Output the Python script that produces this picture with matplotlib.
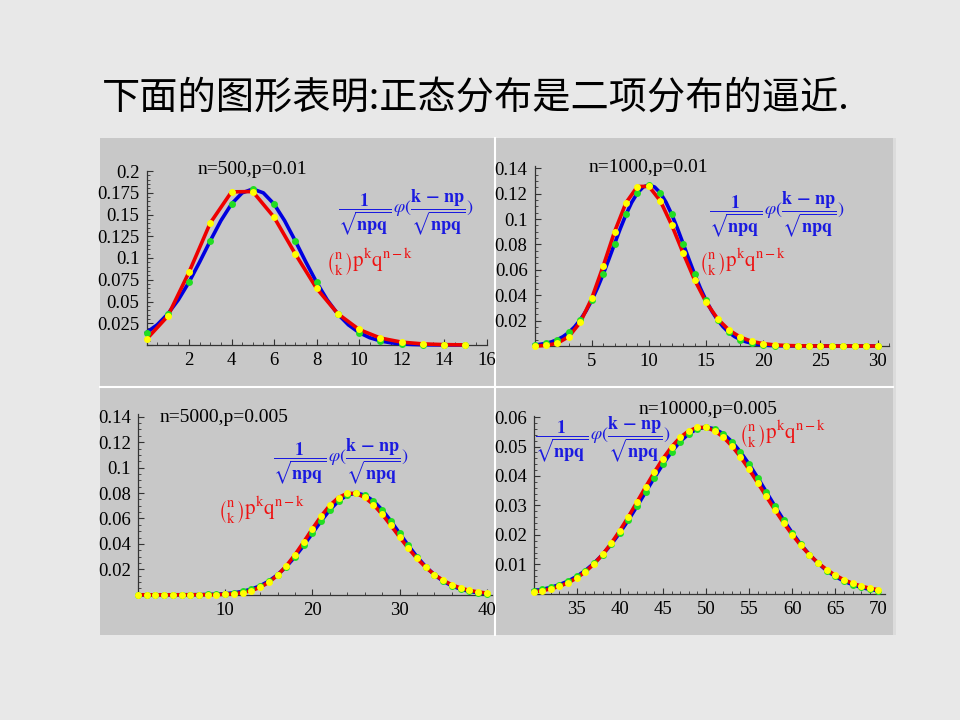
import numpy as np
import matplotlib
matplotlib.use("Agg")
import matplotlib.pyplot as plt
from matplotlib.patches import Rectangle
from matplotlib.ticker import MultipleLocator, FuncFormatter

plt.rcParams['mathtext.fontset'] = 'stix'

# ------------------------------------------------------------------
# Data: binomial (red) and normal (blue) values
# ------------------------------------------------------------------
title = "下面的图形表明:正态分布是二项分布的逼近."

# panel 1: n=500, p=0.01
k1 = np.arange(0, 16)
red1 = [0.00657, 0.03318, 0.08363, 0.14023, 0.17600, 0.17636, 0.14697, 0.10477,
        0.06522, 0.03601, 0.01786, 0.00804, 0.00331, 0.00125, 0.00044, 0.00014]
kb1 = np.arange(0, 15.5, 0.5)
blue1 = [0.01435, 0.02318, 0.03562, 0.05202, 0.07224, 0.09537, 0.11971, 0.14286,
         0.16209, 0.17484, 0.17931, 0.17484, 0.16209, 0.14286, 0.11971, 0.09537,
         0.07224, 0.05202, 0.03562, 0.02318, 0.01435, 0.00844, 0.00473, 0.00251,
         0.00127, 0.00061, 0.00028, 0.00012, 0.00005, 0.00002, 0.00001]

# panel 2: n=1000, p=0.01
k2 = np.arange(0, 31)
red2 = [0.000043, 0.000436, 0.002200, 0.007393, 0.018614, 0.037453, 0.062737,
        0.089986, 0.112824, 0.125614, 0.125741, 0.114310, 0.095162, 0.073054,
        0.052024, 0.034542, 0.021480, 0.012559, 0.006928, 0.003617, 0.001792,
        0.000845, 0.000380, 0.000163, 0.000067, 0.000026, 0.00001, 0.000004,
        0.000001, 0.0000005, 0.0000002]
kb2 = np.arange(0, 30.5, 0.5)
blue2 = [0.000812, 0.001328, 0.002121, 0.003298, 0.005003, 0.00740, 0.01067,
         0.01501, 0.02058, 0.02752, 0.03587, 0.04560, 0.05651, 0.06830, 0.08048,
         0.09247, 0.10360, 0.11317, 0.12055, 0.12520, 0.12679, 0.12520, 0.12055,
         0.11317, 0.10360, 0.09247, 0.08048, 0.06830, 0.05651, 0.04560, 0.03587,
         0.02752, 0.02058, 0.01501, 0.01067, 0.00740, 0.005003, 0.003298,
         0.002121, 0.001328, 0.000812, 0.000484, 0.000281, 0.000159, 0.000088,
         0.00005, 0.000025, 0.00001, 0.00001, 0, 0, 0, 0, 0, 0, 0, 0, 0, 0, 0, 0]

# panel 3: n=5000, p=0.005
k3 = np.arange(0, 41)
red3 = [0, 0, 0, 0, 0, 0.000001, 0.000005, 0.000016, 0.000051, 0.000142,
        0.000357, 0.000814, 0.001701, 0.003280, 0.005871, 0.009807, 0.015354,
        0.022620, 0.031468, 0.041463, 0.051891, 0.061837, 0.070326, 0.076487,
        0.079706, 0.079722, 0.076656, 0.070963, 0.063334, 0.054566, 0.045435,
        0.036604, 0.028562, 0.021607, 0.015862, 0.011310, 0.007838, 0.005284,
        0.003468, 0.002217, 0.001382]
blue3 = [0, 0, 0, 0, 0, 0.00003, 0.00006, 0.00012, 0.00024, 0.00047, 0.00087,
         0.00156, 0.00268, 0.00443, 0.00703, 0.01072, 0.01570, 0.02210, 0.02987,
         0.03879, 0.04839, 0.05799, 0.06675, 0.07381, 0.07840, 0.07999, 0.07840,
         0.07381, 0.06675, 0.05799, 0.04839, 0.03879, 0.02987, 0.02210, 0.01570,
         0.01072, 0.00703, 0.00443, 0.00268, 0.00156, 0.00087]

# panel 4: n=10000, p=0.005
k4 = np.arange(30, 71)
red4 = [0.000665, 0.001074, 0.001681, 0.002552, 0.003760, 0.005380, 0.007484,
        0.010128, 0.013344, 0.017128, 0.021434, 0.026165, 0.031177, 0.036281,
        0.041258, 0.045870, 0.049884, 0.053090, 0.055319, 0.056460, 0.056466,
        0.055359, 0.053224, 0.050201, 0.046469, 0.042227, 0.037684, 0.033036,
        0.028459, 0.024098, 0.020064, 0.016429, 0.013235, 0.010491, 0.008185,
        0.006287, 0.004756, 0.003544, 0.002601, 0.001881, 0.001341]
blue4 = [0.001015, 0.001503, 0.002179, 0.003098, 0.004316, 0.005894, 0.007888,
         0.010348, 0.013305, 0.016764, 0.020703, 0.025060, 0.029729, 0.034566,
         0.039390, 0.043992, 0.048159, 0.051669, 0.054332, 0.055994, 0.056560,
         0.055994, 0.054332, 0.051669, 0.048159, 0.043992, 0.039390, 0.034566,
         0.029729, 0.025060, 0.020703, 0.016764, 0.013305, 0.010348, 0.007888,
         0.005894, 0.004316, 0.003098, 0.002179, 0.001503, 0.001015]

panel_titles = ["n=500,p=0.01", "n=1000,p=0.01", "n=5000,p=0.005", "n=10000,p=0.005"]

BLUE_TXT = r'$\dfrac{\mathbf{1}}{\sqrt{\mathbf{npq}}}\,\varphi(\dfrac{\mathbf{k\,-\,np}}{\sqrt{\mathbf{npq}}})$'
RED_TXT = r'$\binom{\mathrm{n}}{\mathrm{k}}\mathrm{p^k q^{n-k}}$'

W, H = 960, 720
fig = plt.figure(figsize=(9.6, 7.2), dpi=100)
fig.patch.set_facecolor('#e8e8e8')

# background axes in pixel coordinates for the gray panel block
bg = fig.add_axes([0, 0, 1, 1])
bg.set_xlim(0, W)
bg.set_ylim(H, 0)
bg.axis('off')
bg.add_patch(Rectangle((100, 138), 793, 497, facecolor='#c8c8c8', edgecolor='none'))
bg.add_patch(Rectangle((893, 138), 3, 497, facecolor='#dcdcdc', edgecolor='none'))
bg.plot([495, 495], [138, 635], color='white', lw=1.5)
bg.plot([100, 893], [387, 387], color='white', lw=1.5)

fig.text(102 / W, 1 - 98 / H, title, fontsize=27.5, va='center', ha='left',
         family=['Noto Sans CJK SC', 'DejaVu Sans'], color='black')


def fmt(v, pos):
    s = ('%.3f' % v).rstrip('0').rstrip('.')
    return s


def panel(box, xlim, ylim, xmaj, xmin, ymaj, ymin, xticks):
    left, ybot, width, height = box
    ax = fig.add_axes([left / W, 1 - ybot / H, width / W, height / H])
    ax.set_facecolor('none')
    ax.set_xlim(*xlim)
    ax.set_ylim(*ylim)
    for s in ['top', 'right']:
        ax.spines[s].set_visible(False)
    for s in ['left', 'bottom']:
        ax.spines[s].set_color('#333333')
        ax.spines[s].set_linewidth(0.9)
    ax.set_xticks(xticks)
    ax.xaxis.set_minor_locator(MultipleLocator(xmin))
    ax.yaxis.set_major_locator(MultipleLocator(ymaj))
    ax.yaxis.set_minor_locator(MultipleLocator(ymin))
    ax.yaxis.set_major_formatter(FuncFormatter(lambda v, p: '' if v <= 0 or v > ylim[1] + 1e-9 else fmt(v, p)))
    ax.tick_params(which='major', direction='in', length=4, width=0.8, color='#333333',
                   labelsize=13.5, pad=5)
    ax.tick_params(which='minor', direction='in', length=2, width=0.6, color='#333333')
    for lab in ax.get_xticklabels() + ax.get_yticklabels():
        lab.set_family('Liberation Serif')
    return ax


def draw(ax, kr, red, kb, blue, kg, green):
    ax.plot(kb, blue, color='#0000e0', lw=2.6, clip_on=False, zorder=3)
    ax.plot(kr, red, color='#ee0000', lw=2.6, clip_on=False, zorder=4)
    ax.plot(kg, green, 'o', color='#22dd22', ms=5, mec='none', clip_on=False, zorder=5)
    ax.plot(kr, red, 'o', color='#ffff00', ms=5, mec='none', clip_on=False, zorder=6)


# panel 1
ax1 = panel((146.5, 345, 340, 174), (0, 16), (0, 0.2), 2, 0.5, 0.025, 0.005,
            [2, 4, 6, 8, 10, 12, 14, 16])
draw(ax1, k1, red1, kb1, blue1, kb1[::2], blue1[::2])

# panel 2
ax2 = panel((534.5, 346, 354.6, 180.3), (0, 31), (0, 0.142), 5, 1, 0.02, 0.005,
            [5, 10, 15, 20, 25, 30])
draw(ax2, k2, red2, kb2, blue2, kb2[::2], blue2[::2])

# panel 3
ax3 = panel((138, 594.8, 354, 180.6), (0, 40.6), (0, 0.142), 10, 2, 0.02, 0.005,
            [10, 20, 30, 40])
draw(ax3, k3, red3, k3, blue3, k3, blue3)

# panel 4
ax4 = panel((533.6, 593.8, 351.7, 178.2), (30, 70.8), (0, 0.0605), 5, 1, 0.01, 0.002,
            [35, 40, 45, 50, 55, 60, 65, 70])
draw(ax4, k4, red4, k4, blue4, k4, blue4)

# panel labels and formulas (pixel positions)
serif = ['Liberation Serif', 'DejaVu Serif']
labels = [(252, 170, panel_titles[0]), (648, 168, panel_titles[1]),
          (224, 417, panel_titles[2]), (708, 410, panel_titles[3])]
for x, y, t in labels:
    fig.text(x / W, 1 - y / H, t, fontsize=14, ha='center', va='center', family=serif)

blue_pos = [(406, 213), (777, 215), (341, 462), (603, 440)]
red_pos = [(370, 262), (743, 262), (262, 510), (783, 434)]
for x, y in blue_pos:
    fig.text(x / W, 1 - y / H, BLUE_TXT, fontsize=13, ha='center', va='center', color='#1a1ae0')
for x, y in red_pos:
    fig.text(x / W, 1 - y / H, RED_TXT, fontsize=15, ha='center', va='center', color='#ee1111')

fig.savefig('out.png', dpi=100, facecolor=fig.get_facecolor())
